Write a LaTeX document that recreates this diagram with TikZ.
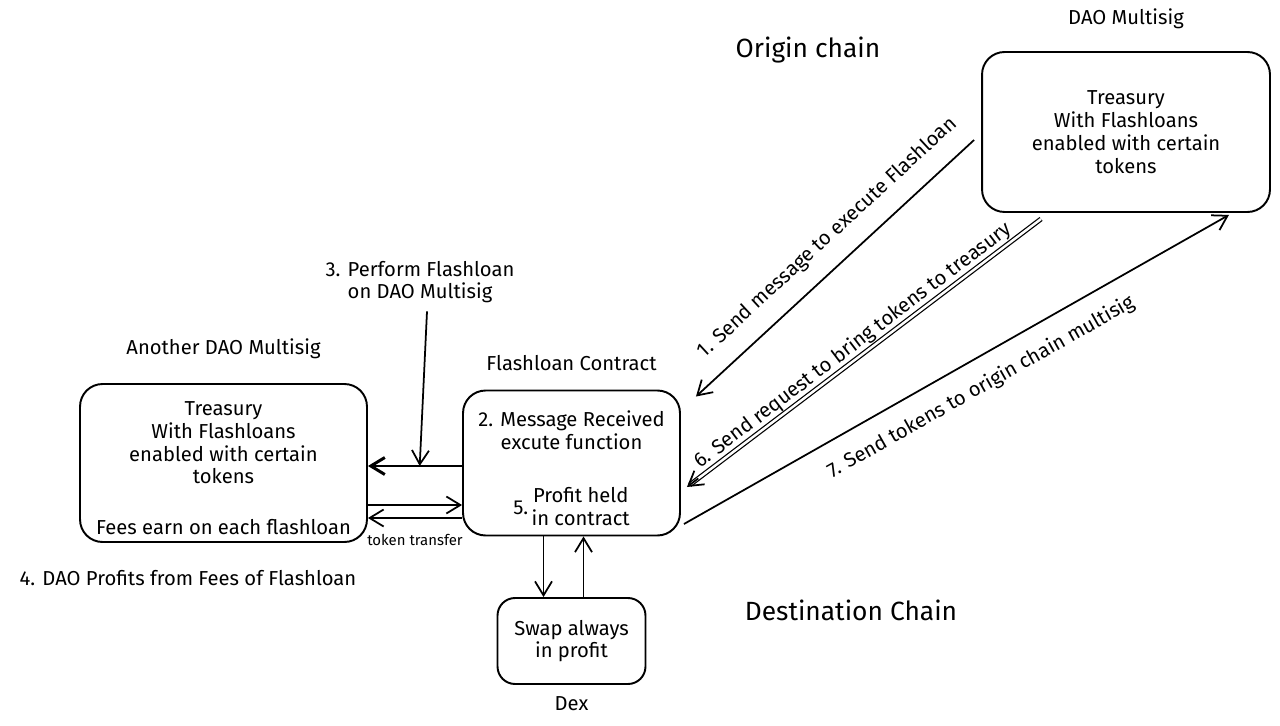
\documentclass[tikz,border=0pt]{standalone}
\usepackage{fontspec}
\setmainfont{Fira Sans}
\usetikzlibrary{arrows.meta, positioning}

\begin{document}
\begin{tikzpicture}[x=0.02cm, y=-0.02cm,
	font=\fontsize{11.5}{13}\selectfont,
	box/.style={draw, line width=1.1pt, rounded corners=0.45cm, align=center},
	title/.style={font=\fontsize{15}{18}\selectfont},
	flow/.style={line width=1pt, -{Straight Barb[length=2.8mm, width=3.4mm]}},
	tag/.style={inner sep=1pt}]
	\useasboundingbox (0,0) rectangle (1280,726);
	% ORIGIN CHAIN
	\node[title] at (808,50) {Origin chain};
	\node[box, minimum width=5.76cm, minimum height=3.2cm] (tres) at (1126,132)
		{Treasury\\With Flashloans\\enabled with certain\\tokens};
	\node[above=0.32cm of tres] {DAO Multisig};
	% DESTINATION CHAIN
	\node[title] at (851,610) {Destination Chain};
	\node[box, minimum width=5.74cm, minimum height=3.16cm] (anotr) at (223.5,463)
		{\rule{0pt}{14pt}Treasury\\With Flashloans\\enabled with certain\\tokens\\[16pt]Fees earn on each flashloan};
	\node[above=0.36cm of anotr] {Another DAO Multisig};
	\node[box, inner ysep=1pt, minimum width=4.34cm, minimum height=2.9cm] (flc) at (571.5,463)
		{\rule{0pt}{19pt}2. Message Received\\excute function\\[20pt]5.\,\begin{tabular}{@{}c@{}}Profit held\\in contract\end{tabular}};
	\node[above=0.25cm of flc] {Flashloan Contract};
	\node[box, rounded corners=0.35cm, minimum width=2.96cm, minimum height=1.72cm] (dex) at (571.5,641)
		{Swap always\\in profit};
	\node[below=0.1cm of dex] {Dex};
	\node[align=center] (perf) at (420,282) {3. Perform Flashloan\\on DAO Multisig};
	\node at (188,578) {4. DAO Profits from Fees of Flashloan};
	% CROSS CHAIN
	\draw[flow] ([shift={(-7,8)}]tres.west) -- node[tag, sloped, above=0.3cm, pos=0.46]
		{1. Send message to execute Flashloan} ([shift={(15,7)}]flc.north east);
	\draw[double, double distance=1.4pt, line width=0.7pt, shorten >=2pt] ([shift={(60,6)}]tres.south west)
		-- node[tag, sloped, above, pos=0.51] {6. Send request to bring tokens to treasury}
		([shift={(6,24)}]flc.east);
	\draw[flow, shorten <=8.6cm] ([shift={(60,6)}]tres.south west) -- ([shift={(6,24)}]flc.east);
	\draw[flow] ([shift={(3,61)}]flc.east) -- node[tag, sloped, below=0.3cm, pos=0.52]
		{7. Send tokens to origin chain multisig} ([shift={(-42,2)}]tres.south east);
	% FLASHLOAN
	\draw[flow, line width=1.7pt] ([shift={(0,3)}]flc.west) -- coordinate[pos=0.45] (jn)
		([shift={(0,3)}]anotr.east);
	\draw[flow] ([shift={(7,2)}]perf.south) -- (jn);
	\draw[flow] ([shift={(0,42)}]anotr.east) -- ([shift={(0,42)}]flc.west);
	\draw[flow] ([shift={(0,55)}]flc.west) -- node[below=0.2cm, font=\fontsize{8.5}{10}\selectfont]
		{token transfer} ([shift={(0,55)}]anotr.east);
	\draw[flow] ([shift={(-28,0)}]flc.south) -- ([shift={(-28,0)}]dex.north);
	\draw[flow] ([shift={(12,0)}]dex.north) -- ([shift={(12,0)}]flc.south);
\end{tikzpicture}
\end{document}
